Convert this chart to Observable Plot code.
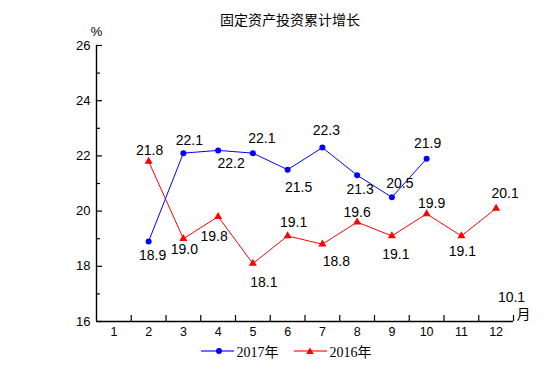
<!DOCTYPE html>
<html><head><meta charset="utf-8">
<script src="https://cdn.jsdelivr.net/npm/d3@7"></script>
<script src="https://cdn.jsdelivr.net/npm/@observablehq/plot@0.6"></script>
<style>
body{margin:0;background:#fff;width:552px;height:390px;overflow:hidden;color:#000}
#title{width:552px;height:26px;box-sizing:border-box;padding-top:14px;padding-left:28px;line-height:14px;font-size:14px;font-family:"Liberation Serif","Noto Sans CJK SC",serif;text-align:center;white-space:nowrap}
#legend{width:552px;box-sizing:border-box;padding-left:20px;display:flex;justify-content:center;align-items:center;height:14px;font-size:14px;font-family:"Liberation Serif","Noto Sans CJK SC",serif}
#legend .item{display:flex;align-items:center}
#legend .item + .item{margin-left:15px}
#legend svg{margin-right:3px}
</style>
</head><body>
<div id="title">固定资产投资累计增长</div>
<div id="chart"></div>
<div id="legend"></div>
<script>
const titleText = "固定资产投资累计增长";
const months = [1,2,3,4,5,6,7,8,9,10,11,12];
const xDomain = [0.5, 12.5];
const yDomain = [16, 26];
const yMajorTicks = [16,18,20,22,24,26];
const yMinorTicks = [17,19,21,23,25];
const months2017 = [2,3,4,5,6,7,8,9,10];
const values2017 = [18.9,22.1,22.2,22.1,21.5,22.3,21.3,20.5,21.9];
const months2016 = [2,3,4,5,6,7,8,9,10,11,12];
const values2016 = [21.8,19.0,19.8,18.1,19.1,18.8,19.6,19.1,19.9,19.1,20.1];
const seriesNames = ["2017年","2016年"];
const yUnit = "%";
const xUnit = "月";
const cornerNote = "10.1";

// label placement (pixel offsets, layout only)
const off2017 = [[4,14],[6,-13],[13,13],[9,-15],[11,18],[4,-17],[3,14],[8,-14],[1,-15]];
const off2016 = [[1,-11],[1,11],[-4,20],[11,19],[6,-13],[14,17],[0,-10],[4,19],[5,-10],[1,16],[9,-15]];

const d2017 = months2017.map((m,i)=>({m, v: values2017[i]}));
const d2016 = months2016.map((m,i)=>({m, v: values2016[i]}));
const bounds = months.map(m => m + 0.5);

const W = 552, H = 318, mL = 96, mR = 39, mT = 19, mB = 23;
const innerW = W - mL - mR, innerH = H - mT - mB;
const labelFont = "Liberation Sans, Arial, sans-serif";

const labelMarks = (data, offs) => data.map((d,i) => Plot.text([d], {
  x: "m", y: "v", text: d => d.v.toFixed(1), dx: offs[i][0], dy: offs[i][1],
  fontSize: 14, fill: "black", lineAnchor: "middle", textAnchor: "middle"
}));

const chart = Plot.plot({
  width: W, height: H, marginLeft: mL, marginRight: mR, marginTop: mT, marginBottom: mB,
  style: {fontFamily: labelFont, color: "black", background: "white", overflow: "visible"},
  x: {domain: xDomain},
  y: {domain: yDomain},
  marks: [
    Plot.axisY({ticks: yMajorTicks, tickSize: 0, tickPadding: 6, fontSize: 13, label: null}),
    Plot.axisX({ticks: months, tickSize: 0, tickPadding: 6, fontSize: 12.5, label: null, tickFormat: d => String(d)}),
    Plot.tickX(bounds, {x: d => d, stroke: "black", strokeWidth: 1.2, insetTop: innerH - 6}),
    Plot.tickY(yMajorTicks, {y: d => d, stroke: "black", strokeWidth: 1.2, insetRight: innerW - 6}),
    Plot.tickY(yMinorTicks, {y: d => d, stroke: "black", strokeWidth: 1.2, insetRight: innerW - 4}),
    Plot.ruleX([xDomain[0]], {stroke: "black", strokeWidth: 1.4}),
    Plot.ruleY([yDomain[0]], {stroke: "black", strokeWidth: 1.4}),
    Plot.line(d2016, {x: "m", y: "v", stroke: "red", strokeWidth: 1}),
    Plot.line(d2017, {x: "m", y: "v", stroke: "blue", strokeWidth: 1}),
    Plot.dot(d2016, {x: "m", y: "v", fill: "red", symbol: "triangle", r: 3}),
    Plot.dot(d2017, {x: "m", y: "v", fill: "blue", symbol: "circle", r: 3}),
    ...labelMarks(d2017, off2017),
    ...labelMarks(d2016, off2016),
    Plot.text([yUnit], {x: xDomain[0], y: yDomain[1], text: d => d, dy: -14, fontSize: 13, fill: "black"}),
    Plot.text([xUnit], {x: xDomain[1], y: yDomain[0], text: d => d, dx: 10, dy: -7, fontSize: 14, fill: "black", fontFamily: "Noto Sans CJK SC"}),
    Plot.text([cornerNote], {x: xDomain[1], y: yDomain[0], text: d => d, dx: -2, dy: -24, fontSize: 14, fill: "black"})
  ]
});
document.getElementById("chart").appendChild(chart);
document.getElementById("title").textContent = titleText;

const legend = document.getElementById("legend");
const items = [
  {name: seriesNames[0], color: "blue", marker: "circle"},
  {name: seriesNames[1], color: "red", marker: "triangle"}
];
items.forEach(it => {
  const span = document.createElement("span");
  span.className = "item";
  const mk = it.marker === "circle"
    ? `<circle cx="18" cy="6" r="3" fill="${it.color}"/>`
    : `<path d="M16,2.5L19.8,9L12.2,9Z" fill="${it.color}"/>`;
  span.innerHTML = `<svg width="33" height="12"><line x1="0" x2="33" y1="6" y2="6" stroke="${it.color}" stroke-opacity="0.75" stroke-width="1.5"/>${mk}</svg><span>${it.name}</span>`;
  legend.appendChild(span);
});
</script>
</body></html>
